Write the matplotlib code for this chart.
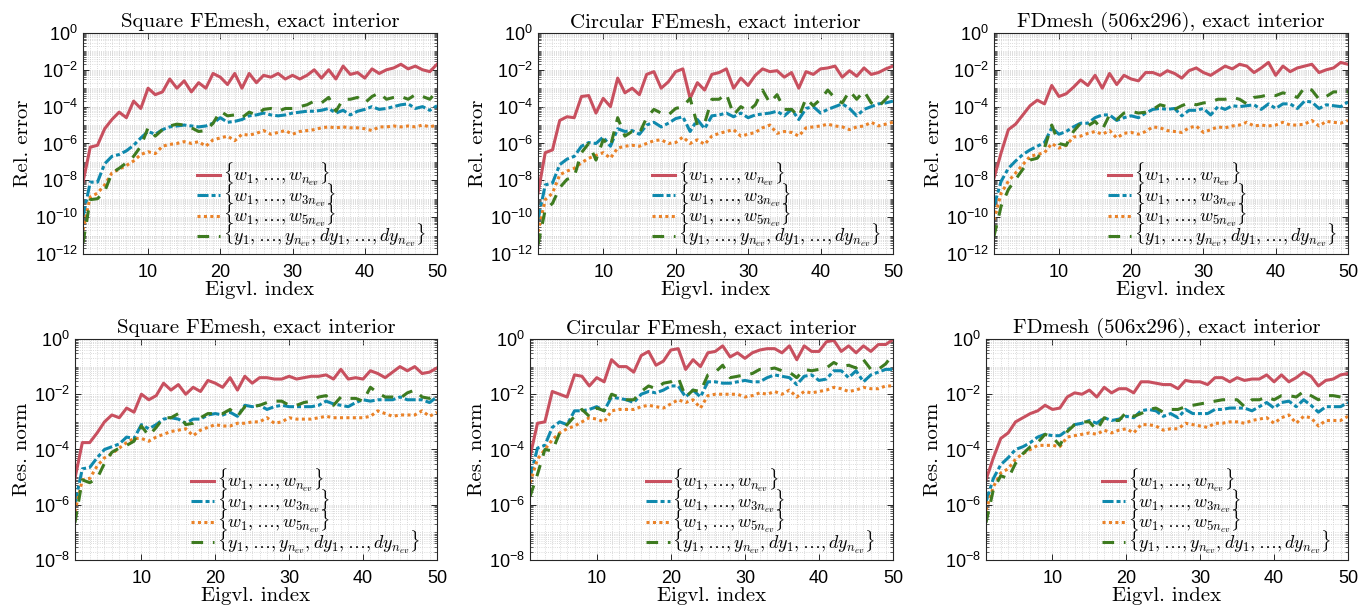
import numpy as np
import matplotlib
matplotlib.use('Agg')
from matplotlib import pyplot as plt
from matplotlib.ticker import FixedLocator, LogLocator, MultipleLocator, NullFormatter

plt.rcParams['font.family'] = ['Liberation Sans', 'DejaVu Sans']
plt.rcParams['mathtext.fontset'] = 'cm'

# eigenvalue index
idx = np.arange(1, 51)

# log10 of the relative eigenvalue error, square FE mesh
sq_err_w = [-8.1, -6.2, -6.1, -5.2, -4.7, -4.3, -4.6, -3.7, -4.1, -3.0,
            -3.35, -3.2, -2.5, -3.0, -2.6, -3.2, -2.7, -3.0, -2.2, -2.4,
            -2.8, -2.2, -3.0, -2.2, -2.7, -2.3, -2.4, -2.2, -2.5, -2.3,
            -2.5, -2.3, -2.0, -2.45, -2.0, -2.5, -1.8, -2.25, -2.15, -2.45,
            -1.95, -2.2, -2.0, -1.9, -1.7, -1.95, -1.8, -2.0, -2.1, -1.7]
sq_err_w3 = [-10.0, -8.1, -8.1, -7.1, -6.7, -6.6, -6.4, -6.1, -5.7, -5.35,
             -5.5, -5.25, -5.1, -5.05, -5.0, -5.05, -5.1, -5.05, -4.9, -4.6,
             -4.85, -4.8, -4.7, -4.5, -4.45, -4.35, -4.45, -4.5, -4.45, -4.35,
             -4.3, -4.25, -4.25, -4.2, -4.1, -4.35, -4.2, -4.45, -4.25, -4.15,
             -4.0, -4.15, -4.1, -4.0, -3.9, -3.85, -4.1, -4.0, -4.2, -3.95]
sq_err_w5 = [-10.7, -8.9, -8.7, -8.25, -7.6, -7.4, -7.2, -6.95, -6.6, -6.45,
             -6.55, -6.15, -6.05, -6.0, -5.9, -6.0, -5.9, -6.15, -5.8, -5.7,
             -5.6, -5.85, -5.5, -5.55, -5.45, -5.3, -5.5, -5.4, -5.3, -5.5,
             -5.35, -5.3, -5.25, -5.15, -5.1, -5.15, -5.1, -5.15, -5.15, -5.2,
             -5.3, -5.1, -5.1, -5.05, -5.1, -5.05, -5.1, -5.0, -5.1, -5.0]
sq_err_y = [-11.4, -9.05, -9.0, -8.6, -7.6, -7.35, -7.05, -6.7, -6.15, -5.15,
            -5.6, -5.25, -5.05, -4.95, -5.0, -5.15, -5.35, -5.3, -4.9, -4.25,
            -4.5, -4.45, -4.6, -4.3, -4.45, -4.15, -4.1, -4.25, -4.1, -4.1,
            -4.0, -3.9, -3.7, -3.8, -3.5, -4.25, -3.6, -3.6, -3.5, -3.8,
            -3.45, -3.25, -3.6, -3.5, -3.45, -3.6, -3.35, -3.45, -3.6, -3.15]

# log10 of the relative eigenvalue error, circular FE mesh
ci_err_w = [-8.7, -6.5, -6.35, -4.75, -4.55, -4.6, -3.45, -3.4, -4.35, -3.55,
            -4.0, -2.45, -3.25, -3.0, -3.35, -2.25, -2.1, -3.0, -2.65, -2.1,
            -1.95, -3.55, -2.7, -3.1, -2.25, -2.15, -1.95, -3.0, -2.45, -2.85,
            -2.3, -1.95, -2.1, -2.05, -2.4, -2.15, -3.0, -2.1, -2.25, -1.95,
            -1.9, -1.8, -2.4, -2.05, -2.35, -1.9, -2.25, -2.15, -1.95, -1.8]
ci_err_w3 = [-10.15, -8.25, -8.15, -7.15, -6.85, -6.7, -6.15, -5.95, -6.0, -5.65,
             -6.15, -5.2, -5.35, -5.3, -5.5, -5.0, -4.85, -5.1, -4.9, -4.65,
             -4.55, -5.35, -4.7, -5.2, -4.5, -4.45, -4.35, -4.55, -4.35, -4.6,
             -4.45, -4.4, -4.35, -4.25, -4.5, -4.15, -4.7, -4.1, -4.0, -4.35,
             -4.15, -4.0, -3.85, -4.1, -4.5, -4.15, -4.0, -3.85, -3.8, -3.7]
ci_err_w5 = [-10.8, -9.05, -8.7, -7.7, -7.5, -7.35, -7.05, -6.8, -6.65, -6.5,
             -6.8, -6.25, -6.15, -6.1, -6.15, -6.0, -5.85, -5.8, -6.0, -5.95,
             -5.65, -6.0, -5.8, -6.05, -5.6, -5.45, -5.35, -5.25, -5.6, -5.5,
             -5.4, -5.15, -5.0, -5.45, -5.35, -5.4, -5.6, -5.15, -5.1, -5.05,
             -4.95, -5.05, -5.1, -5.25, -5.1, -5.05, -4.85, -5.05, -4.95, -4.85]
ci_err_y = [-11.5, -9.6, -9.25, -8.4, -7.95, -7.8, -6.5, -6.0, -6.9, -5.8,
            -6.15, -4.6, -5.6, -5.35, -5.45, -4.6, -4.15, -4.35, -4.45, -4.1,
            -4.0, -3.55, -5.0, -4.9, -3.6, -3.6, -3.3, -4.45, -4.0, -4.25,
            -3.9, -3.1, -3.8, -3.35, -4.15, -4.15, -4.55, -3.55, -3.95, -3.6,
            -3.1, -3.55, -3.8, -3.15, -3.6, -3.15, -3.8, -4.0, -3.6, -3.15]

# log10 of the relative eigenvalue error, FD mesh
fd_err_w = [-7.9, -6.5, -5.25, -4.95, -4.45, -3.95, -3.65, -3.85, -2.85, -3.45,
            -3.3, -2.95, -2.55, -2.85, -2.3, -3.0, -2.2, -2.8, -2.3, -2.5,
            -2.6, -2.15, -2.15, -2.3, -2.05, -2.2, -2.45, -2.05, -1.9, -2.15,
            -2.3, -2.05, -1.8, -1.95, -1.7, -1.8, -2.15, -1.9, -1.6, -2.3,
            -1.8, -2.1, -1.9, -1.8, -1.7, -2.15, -2.0, -1.9, -1.6, -1.7]
fd_err_w3 = [-9.4, -8.05, -7.35, -6.95, -6.6, -6.35, -6.15, -5.95, -5.15, -5.5,
             -5.35, -5.1, -4.9, -4.9, -4.6, -4.45, -4.45, -4.75, -4.6, -4.5,
             -4.6, -4.35, -4.15, -4.1, -4.15, -4.1, -4.5, -4.2, -4.2, -4.1,
             -4.45, -4.0, -4.15, -3.95, -4.0, -3.95, -3.9, -4.15, -3.85, -4.1,
             -3.85, -3.85, -4.1, -3.7, -3.75, -4.1, -3.9, -3.95, -4.0, -3.75]
fd_err_w5 = [-10.15, -8.7, -8.05, -7.6, -7.15, -6.7, -6.6, -6.5, -6.0, -6.25,
             -6.1, -5.65, -5.6, -5.45, -5.35, -5.5, -5.3, -5.7, -5.45, -5.4,
             -5.5, -5.35, -5.1, -5.15, -5.3, -5.35, -5.4, -5.15, -5.05, -5.4,
             -5.25, -5.1, -5.15, -5.05, -5.0, -4.85, -5.05, -5.0, -5.05, -5.0,
             -4.85, -5.0, -5.0, -4.95, -4.75, -5.05, -4.8, -4.85, -4.9, -4.75]
fd_err_y = [-11.05, -9.4, -8.5, -7.95, -7.4, -6.9, -6.8, -6.25, -5.0, -6.0,
            -6.1, -5.35, -4.9, -5.05, -4.8, -5.25, -4.45, -4.7, -4.35, -4.25,
            -4.35, -4.3, -4.15, -3.9, -4.0, -4.15, -3.95, -3.8, -3.9, -3.8,
            -3.75, -3.6, -3.6, -3.5, -3.6, -3.85, -3.5, -3.45, -3.35, -3.4,
            -3.25, -3.35, -3.5, -2.95, -3.1, -3.6, -3.45, -3.2, -3.2, -3.2]

# log10 of the residual norm, square FE mesh
sq_res_w = [-5.05, -3.75, -3.75, -3.4, -3.0, -2.75, -2.85, -2.5, -2.65, -2.0,
            -2.2, -2.05, -1.6, -1.85, -1.65, -2.0, -1.75, -1.9, -1.5, -1.6,
            -1.75, -1.4, -1.85, -1.35, -1.6, -1.4, -1.4, -1.45, -1.45, -1.35,
            -1.45, -1.4, -1.35, -1.35, -1.3, -1.45, -1.1, -1.45, -1.4, -1.45,
            -1.15, -1.25, -1.4, -1.2, -1.0, -1.15, -1.0, -1.25, -1.2, -1.05]
sq_res_w3 = [-5.95, -4.7, -4.65, -4.3, -4.0, -3.9, -3.8, -3.55, -3.6, -3.1,
             -3.25, -3.1, -2.9, -2.85, -2.9, -3.05, -2.9, -2.9, -2.75, -2.7,
             -2.75, -2.65, -2.8, -2.4, -2.45, -2.4, -2.55, -2.45, -2.4, -2.45,
             -2.45, -2.45, -2.45, -2.4, -2.25, -2.35, -2.4, -2.45, -2.3, -2.2,
             -2.25, -2.2, -2.2, -2.2, -2.1, -2.2, -2.2, -2.2, -2.3, -2.1]
sq_res_w5 = [-6.25, -5.1, -5.05, -4.6, -4.3, -4.15, -3.95, -3.75, -3.6, -3.6,
             -3.7, -3.55, -3.45, -3.35, -3.3, -3.25, -3.5, -3.3, -3.2, -3.1,
             -3.15, -3.15, -3.05, -3.05, -3.0, -3.0, -2.85, -3.05, -3.0, -2.85,
             -2.9, -2.9, -2.9, -2.85, -2.8, -2.85, -2.85, -2.85, -2.85, -2.85,
             -2.8, -2.6, -2.7, -2.8, -2.75, -2.75, -2.75, -2.6, -2.8, -2.65]
sq_res_y = [-6.65, -5.1, -5.2, -5.05, -4.5, -4.1, -3.95, -3.85, -3.7, -3.15,
            -3.5, -3.2, -2.85, -2.85, -2.7, -3.1, -3.05, -2.85, -2.7, -2.7,
            -2.7, -2.55, -2.8, -2.45, -2.45, -2.4, -2.3, -2.25, -2.25, -2.4,
            -2.4, -2.3, -2.25, -2.1, -2.05, -2.4, -2.1, -2.15, -2.15, -2.25,
            -1.75, -1.95, -2.1, -2.1, -2.15, -1.95, -1.85, -2.1, -2.15, -1.95]

# log10 of the residual norm, circular FE mesh
ci_res_w = [-4.25, -3.05, -3.0, -1.9, -2.0, -2.1, -1.3, -1.35, -1.7, -1.4,
            -1.55, -0.75, -1.0, -1.0, -1.2, -0.6, -0.45, -0.95, -0.8, -0.4,
            -0.35, -1.1, -0.75, -1.0, -0.5, -0.45, -0.25, -0.65, -0.5, -0.7,
            -0.5, -0.4, -0.35, -0.35, -0.5, -0.25, -0.75, -0.25, -0.45, -0.45,
            -0.1, -0.05, -0.45, -0.25, -0.5, -0.25, -0.45, -0.2, -0.2, -0.02]
ci_res_w3 = [-5.0, -3.95, -3.85, -3.2, -3.0, -3.1, -2.6, -2.6, -2.55, -2.45,
             -2.6, -2.1, -2.15, -2.2, -2.3, -2.0, -1.9, -1.95, -1.85, -1.7,
             -1.7, -2.1, -1.85, -2.1, -1.55, -1.55, -1.6, -1.6, -1.55, -1.5,
             -1.55, -1.55, -1.4, -1.3, -1.35, -1.4, -1.65, -1.35, -1.3, -1.5,
             -1.45, -1.15, -1.15, -1.4, -1.15, -1.55, -1.3, -1.2, -1.1, -1.1]
ci_res_w5 = [-5.2, -4.35, -4.0, -3.65, -3.4, -3.25, -3.15, -3.0, -2.85, -2.9,
             -3.0, -2.6, -2.55, -2.55, -2.55, -2.45, -2.4, -2.45, -2.5, -2.35,
             -2.2, -2.3, -2.2, -2.5, -2.05, -2.0, -2.0, -2.0, -2.0, -2.1,
             -2.05, -1.95, -2.0, -1.9, -2.0, -1.85, -2.1, -1.9, -1.95, -1.9,
             -1.85, -1.75, -1.8, -1.9, -1.85, -1.75, -1.8, -1.8, -1.7, -1.7]
ci_res_y = [-5.7, -4.9, -4.0, -4.05, -3.4, -3.1, -2.8, -2.55, -2.8, -2.5,
            -2.6, -2.0, -2.1, -2.2, -2.2, -1.9, -1.7, -1.8, -1.6, -1.55,
            -1.4, -2.1, -1.85, -1.9, -1.3, -1.2, -0.95, -1.4, -1.35, -1.3,
            -1.25, -1.1, -1.1, -1.05, -1.15, -1.2, -1.4, -1.1, -1.15, -1.1,
            -1.05, -0.85, -1.0, -0.95, -1.05, -0.75, -1.1, -1.1, -0.9, -0.55]

# log10 of the residual norm, FD mesh
fd_res_w = [-5.1, -4.3, -3.6, -3.4, -3.0, -2.85, -2.7, -2.6, -2.4, -2.55,
            -2.5, -2.1, -1.95, -2.0, -1.85, -2.1, -1.75, -1.95, -1.8, -1.8,
            -1.95, -1.55, -1.55, -1.6, -1.65, -1.65, -1.8, -1.5, -1.55, -1.55,
            -1.65, -1.4, -1.4, -1.55, -1.4, -1.5, -1.45, -1.45, -1.3, -1.55,
            -1.3, -1.55, -1.4, -1.2, -1.35, -1.7, -1.5, -1.45, -1.3, -1.25]
fd_res_w3 = [-5.9, -5.05, -4.55, -4.3, -4.0, -3.9, -3.75, -3.55, -3.45, -3.5,
             -3.5, -3.3, -3.1, -3.05, -2.95, -3.05, -2.85, -2.95, -2.9, -2.8,
             -2.85, -2.6, -2.55, -2.6, -2.8, -2.7, -2.85, -2.55, -2.7, -2.7,
             -2.7, -2.55, -2.55, -2.5, -2.5, -2.5, -2.6, -2.45, -2.3, -2.5,
             -2.3, -2.25, -2.45, -2.2, -2.4, -2.65, -2.45, -2.45, -2.45, -2.3]
fd_res_w5 = [-6.2, -5.35, -4.85, -4.7, -4.35, -4.15, -4.0, -3.85, -3.85, -3.85,
             -3.9, -3.55, -3.5, -3.45, -3.4, -3.45, -3.3, -3.4, -3.3, -3.25,
             -3.4, -3.1, -3.1, -3.15, -3.3, -3.25, -3.25, -3.05, -3.1, -3.15,
             -3.2, -3.05, -3.05, -3.0, -3.0, -3.05, -2.95, -2.9, -2.85, -3.05,
             -2.85, -2.75, -3.05, -2.8, -2.85, -3.15, -2.95, -2.95, -2.95, -2.8]
fd_res_y = [-6.65, -5.45, -4.95, -5.05, -4.5, -4.15, -3.9, -3.75, -3.45, -3.55,
            -3.85, -3.35, -3.1, -3.0, -3.0, -3.3, -2.85, -2.95, -2.95, -2.65,
            -2.8, -2.7, -2.55, -2.5, -2.65, -2.55, -2.55, -2.45, -2.4, -2.35,
            -2.3, -2.25, -2.2, -2.2, -2.2, -2.45, -2.2, -2.2, -2.1, -2.2,
            -2.05, -2.05, -2.1, -1.9, -2.05, -2.2, -2.05, -2.05, -2.1, -1.95]

titles = ['Square FEmesh, exact interior',
          'Circular FEmesh, exact interior',
          'FDmesh (506x296), exact interior']
labels = [r'$\{w_1,\ldots,w_{n_{ev}}\}$',
          r'$\{w_1,\ldots,w_{3n_{ev}}\}$',
          r'$\{w_1,\ldots,w_{5n_{ev}}\}$',
          r'$\{y_1,\ldots,y_{n_{ev}},dy_1,\ldots,dy_{n_{ev}}\}$']

STYLES = [
    dict(color='#C8505F', linestyle='-'),
    dict(color='#0F89AD', dashes=(3.6, 1.0, 1.3, 1.0)),
    dict(color='#EA8228', dashes=(1.0, 1.1)),
    dict(color='#3E7B20', dashes=(3.8, 3.2)),
]

rows = [
    dict(ylabel='Rel. error', ymin=-12,
         data=[[sq_err_w, sq_err_w3, sq_err_w5, sq_err_y],
               [ci_err_w, ci_err_w3, ci_err_w5, ci_err_y],
               [fd_err_w, fd_err_w3, fd_err_w5, fd_err_y]]),
    dict(ylabel='Res. norm', ymin=-8,
         data=[[sq_res_w, sq_res_w3, sq_res_w5, sq_res_y],
               [ci_res_w, ci_res_w3, ci_res_w5, ci_res_y],
               [fd_res_w, fd_res_w3, fd_res_w5, fd_res_y]]),
]

# axes rectangles in figure fraction
POSITIONS = [
    [[0.0606, 0.5877, 0.2584, 0.3588],
     [0.3927, 0.5877, 0.2591, 0.3588],
     [0.7255, 0.5877, 0.2584, 0.3588]],
    [[0.0547, 0.0909, 0.2642, 0.3588],
     [0.3869, 0.0909, 0.2650, 0.3588],
     [0.7197, 0.0909, 0.2642, 0.3588]],
]

serif = dict(family='cmr10')

fig = plt.figure(figsize=(13.7, 6.16), dpi=100)

for r, row in enumerate(rows):
    for c in range(3):
        ax = fig.add_axes(POSITIONS[r][c])
        for series, style, label in zip(row['data'][c], STYLES, labels):
            ax.plot(idx, 10.0 ** np.array(series), linewidth=2.2,
                    label=label, **style)

        ax.set_yscale('log')
        ax.set_xlim(1, 50)
        ax.set_ylim(10.0 ** row['ymin'], 1)
        ax.xaxis.set_major_locator(FixedLocator([10, 20, 30, 40, 50]))
        ax.xaxis.set_minor_locator(MultipleLocator(1))
        ax.yaxis.set_major_locator(
            FixedLocator(10.0 ** np.arange(row['ymin'], 1, 2)))
        ax.yaxis.set_minor_locator(
            LogLocator(base=10, subs=np.arange(1, 10), numticks=100))
        ax.yaxis.set_minor_formatter(NullFormatter())

        ax.grid(True, which='both', linestyle=':', linewidth=0.6,
                color='#cfcfcf')
        ax.set_axisbelow(True)
        ax.tick_params(which='both', direction='in', top=True, right=True,
                       labelsize=13, color='#262626')
        ax.tick_params(which='major', length=4.5, width=0.7)
        ax.tick_params(axis='x', which='major', pad=7)
        ax.tick_params(axis='y', which='minor', length=2.5, width=0.5)
        ax.tick_params(axis='x', which='minor', length=0)
        for sp in ax.spines.values():
            sp.set_color('#262626')
            sp.set_linewidth(0.8)

        ax.set_title(titles[c], fontsize=15, pad=4, **serif)
        ax.set_xlabel('Eigvl. index', fontsize=15, labelpad=0, **serif)
        ax.set_ylabel(row['ylabel'], fontsize=15, labelpad=2, **serif)

        ax.legend(loc='lower left', bbox_to_anchor=(0.28, -0.045),
                  frameon=False, fontsize=13, handlelength=1.3,
                  handletextpad=0.15, labelspacing=-0.38, borderpad=0.3)

fig.savefig('out.png', dpi=100, facecolor='white')
